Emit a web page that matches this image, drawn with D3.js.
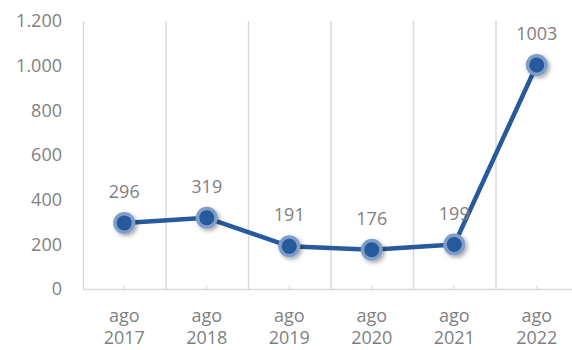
<!DOCTYPE html>
<html>
<head>
<meta charset="utf-8">
<script src="https://cdn.jsdelivr.net/npm/d3@7"></script>
<style>
  body { margin: 0; background: #fff; }
  text { font-family: "Open Sans", "Liberation Sans", sans-serif; fill: #7f7f7f; }
</style>
</head>
<body>
<svg id="chart" width="572" height="350"></svg>
<script>
const months = ['ago', 'ago', 'ago', 'ago', 'ago', 'ago'];
const years = ['2017', '2018', '2019', '2020', '2021', '2022'];
const values = [296, 319, 191, 176, 199, 1003];
const yTicks = [0, 200, 400, 600, 800, 1000, 1200];

const width = 572, height = 350;
const margin = { top: 21, right: -6, bottom: 61, left: 83 };
const innerW = width - margin.left - margin.right;
const innerH = height - margin.top - margin.bottom;

const svg = d3.select('#chart');

const defs = svg.append('defs');
const shadow = defs.append('filter')
  .attr('id', 'shadow')
  .attr('x', '-50%').attr('y', '-50%')
  .attr('width', '200%').attr('height', '200%');
shadow.append('feDropShadow')
  .attr('dx', 2).attr('dy', 2)
  .attr('stdDeviation', 2)
  .attr('flood-color', '#000')
  .attr('flood-opacity', 0.35);

const main = svg.append('g')
  .attr('transform', `translate(${margin.left},${margin.top})`);

const x = d3.scaleBand()
  .domain(years)
  .range([0, innerW]);

const y = d3.scaleLinear()
  .domain([0, 1200])
  .range([innerH, 0]);

// vertical separators between categories
main.append('g')
  .selectAll('line')
  .data(years)
  .join('line')
  .attr('x1', d => x(d) + 0.5)
  .attr('x2', d => x(d) + 0.5)
  .attr('y1', 0)
  .attr('y2', innerH)
  .attr('stroke', '#d9d9d9')
  .attr('stroke-width', 1.5);

// x axis line + small ticks at centers
main.append('line')
  .attr('x1', 0).attr('x2', innerW)
  .attr('y1', innerH + 0.5).attr('y2', innerH + 0.5)
  .attr('stroke', '#d9d9d9')
  .attr('stroke-width', 1.5);

main.append('g')
  .selectAll('line')
  .data(years)
  .join('line')
  .attr('x1', d => x(d) + x.bandwidth() / 2)
  .attr('x2', d => x(d) + x.bandwidth() / 2)
  .attr('y1', innerH - 4)
  .attr('y2', innerH)
  .attr('stroke', '#d9d9d9')
  .attr('stroke-width', 1);

// x labels (two lines)
const xl = main.append('g')
  .selectAll('text')
  .data(years)
  .join('text')
  .attr('text-anchor', 'middle')
  .attr('font-size', 18)
  .attr('transform', d => `translate(${x(d) + x.bandwidth() / 2},${innerH})`);
xl.append('tspan').attr('x', 0).attr('y', 33).text((d, i) => months[i]);
xl.append('tspan').attr('x', 0).attr('y', 55).text(d => d);

// y labels
const fmt = d3.formatLocale({ decimal: ',', thousands: '.', grouping: [3], currency: ['', '€'] }).format(',d');
main.append('g')
  .selectAll('text')
  .data(yTicks)
  .join('text')
  .attr('x', -21)
  .attr('y', d => y(d))
  .attr('dy', '0.35em')
  .attr('text-anchor', 'end')
  .attr('font-size', 18)
  .text(d => fmt(d));

const cx = (d, i) => x(years[i]) + x.bandwidth() / 2;

const line = d3.line()
  .x(cx)
  .y(d => y(d));

main.append('path')
  .datum(values)
  .attr('fill', 'none')
  .attr('stroke', '#275a9d')
  .attr('stroke-width', 4.5)
  .attr('stroke-linejoin', 'round')
  .attr('d', line);

const markers = main.append('g')
  .selectAll('g')
  .data(values)
  .join('g')
  .attr('transform', (d, i) => `translate(${cx(d, i)},${y(d)})`);

markers.append('circle')
  .attr('r', 11)
  .attr('fill', '#7f9dc9')
  .attr('filter', 'url(#shadow)');
markers.append('circle')
  .attr('r', 7.5)
  .attr('fill', '#275a9d');

// data labels
main.append('g')
  .selectAll('text')
  .data(values)
  .join('text')
  .attr('x', cx)
  .attr('y', d => y(d) - 25)
  .attr('text-anchor', 'middle')
  .attr('font-size', 18)
  .text(d => d);
</script>
</body>
</html>
